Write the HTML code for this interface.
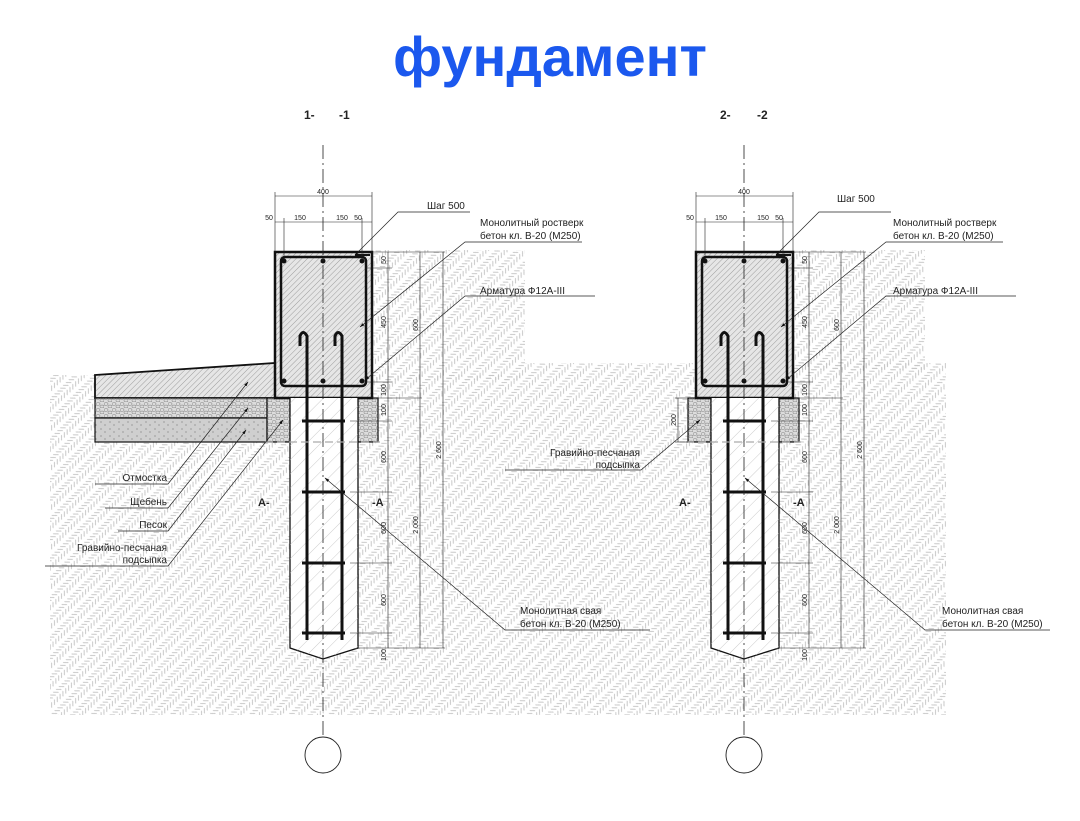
<!DOCTYPE html>
<html><head><meta charset="utf-8"><style>
html,body{margin:0;padding:0;background:#fff;}
svg{display:block;}
text{font-family:"Liberation Sans",sans-serif;fill:#222;}
</style></head><body>
<svg width="1080" height="821" viewBox="0 0 1080 821" xmlns="http://www.w3.org/2000/svg">
<defs>
<pattern id="soil" width="14" height="4" patternUnits="userSpaceOnUse" patternTransform="rotate(45)">
<line x1="1" y1="0" x2="5" y2="4" stroke="#c4c4c4" stroke-width="0.9"/>
<line x1="13" y1="0" x2="9" y2="4" stroke="#c4c4c4" stroke-width="0.9"/>
</pattern>
<pattern id="conc" width="4" height="4" patternUnits="userSpaceOnUse" patternTransform="rotate(45)">
<rect width="4" height="4" fill="#e6e6e6"/>
<line x1="0" y1="0" x2="0" y2="4" stroke="#8a8a8a" stroke-width="0.8"/>
</pattern>
<pattern id="pile" width="10" height="10" patternUnits="userSpaceOnUse" patternTransform="rotate(45)">
<line x1="0" y1="0" x2="0" y2="10" stroke="#b8b8b8" stroke-width="0.7"/>
</pattern>
<pattern id="grav" width="8" height="6" patternUnits="userSpaceOnUse">
<rect width="8" height="6" fill="#dcdcdc"/>
<ellipse cx="2" cy="2" rx="2" ry="1.5" fill="none" stroke="#8a8a8a" stroke-width="0.6"/>
<ellipse cx="6" cy="4.5" rx="2" ry="1.4" fill="none" stroke="#8a8a8a" stroke-width="0.6"/>
</pattern>
<pattern id="sand" width="9" height="7" patternUnits="userSpaceOnUse">
<rect width="9" height="7" fill="#cfcfcf"/>
<circle cx="2" cy="2" r="0.6" fill="#777"/><circle cx="6" cy="5" r="0.6" fill="#777"/>
</pattern>
<marker id="ar" viewBox="0 0 10 10" refX="9" refY="5" markerWidth="7" markerHeight="7" orient="auto"><path d="M0,2 L10,5 L0,8z" fill="#111"/></marker>
<g id="core">
 <rect x="275" y="252" width="97" height="146" fill="url(#conc)" stroke="#111" stroke-width="2.5"/>
 <rect x="281" y="257" width="85" height="129" rx="4" fill="none" stroke="#111" stroke-width="2.5"/>
 <line x1="355" y1="255" x2="370" y2="255" stroke="#111" stroke-width="2"/>
 <g fill="#111"><circle cx="284" cy="261" r="2.5"/><circle cx="323" cy="261" r="2.5"/><circle cx="362" cy="261" r="2.5"/><circle cx="284" cy="381" r="2.5"/><circle cx="323" cy="381" r="2.5"/><circle cx="362" cy="381" r="2.5"/></g>
 <path d="M290,398 L290,648 L323,659 L358,648 L358,398" fill="#fff" stroke="#111" stroke-width="1.3"/>
 <path d="M290,398 L290,648 L323,659 L358,648 L358,398z" fill="url(#pile)"/>
 <g fill="none" stroke="#111" stroke-width="3">
 <path d="M307,640 L307,336 Q303,329 300,336 L300,346"/>
 <path d="M342,640 L342,336 Q338,329 335,336 L335,346"/>
 </g>
 <g stroke="#111" stroke-width="3"><line x1="302" y1="421" x2="345" y2="421"/><line x1="302" y1="492" x2="345" y2="492"/><line x1="302" y1="563" x2="345" y2="563"/><line x1="302" y1="633" x2="345" y2="633"/></g>
 <line x1="265" y1="442" x2="380" y2="442" stroke="#aaa" stroke-width="1.2" stroke-dasharray="8,4"/>
 <line x1="323" y1="145" x2="323" y2="737" stroke="#222" stroke-width="0.8" stroke-dasharray="14,4,2,4"/>
 <circle cx="323" cy="755" r="18" fill="#fff" stroke="#222" stroke-width="0.9"/>
 <g stroke="#222" stroke-width="0.6" fill="none">
 <line x1="275" y1="196" x2="372" y2="196"/><line x1="275" y1="192" x2="275" y2="252"/><line x1="372" y1="192" x2="372" y2="252"/>
 <line x1="275" y1="222" x2="372" y2="222"/><line x1="284" y1="218" x2="284" y2="257"/><line x1="362" y1="218" x2="362" y2="257"/>
 <line x1="388" y1="252" x2="388" y2="648"/><line x1="420" y1="252" x2="420" y2="648"/><line x1="443" y1="252" x2="443" y2="648"/>
 <line x1="372" y1="252" x2="445" y2="252"/><line x1="366" y1="268" x2="392" y2="268"/><line x1="366" y1="382" x2="392" y2="382"/>
 <line x1="378" y1="398" x2="422" y2="398"/><line x1="350" y1="421" x2="392" y2="421"/><line x1="350" y1="492" x2="392" y2="492"/><line x1="350" y1="563" x2="392" y2="563"/><line x1="350" y1="633" x2="392" y2="633"/><line x1="358" y1="648" x2="445" y2="648"/>
 </g>
 <g font-size="7" text-anchor="middle">
 <text x="323" y="194">400</text><text x="269" y="220">50</text><text x="300" y="220">150</text><text x="342" y="220">150</text><text x="358" y="220">50</text>
 <text transform="translate(386,260) rotate(-90)">50</text><text transform="translate(386,322) rotate(-90)">450</text><text transform="translate(386,390) rotate(-90)">100</text><text transform="translate(386,410) rotate(-90)">100</text><text transform="translate(386,457) rotate(-90)">600</text><text transform="translate(386,528) rotate(-90)">600</text><text transform="translate(386,600) rotate(-90)">600</text><text transform="translate(386,655) rotate(-90)">100</text>
 <text transform="translate(418,325) rotate(-90)">600</text><text transform="translate(418,525) rotate(-90)">2 000</text><text transform="translate(441,450) rotate(-90)">2 600</text>
 </g>
 <g font-size="11" font-weight="bold"><text x="258" y="506">A-</text><text x="372" y="506">-A</text></g>
 <g stroke="#222" stroke-width="0.7" fill="none">
 <path d="M470,212 L398,212 L355,255" marker-end="url(#ar)"/>
 <path d="M582,242 L465,242 L360,327" marker-end="url(#ar)"/>
 <path d="M595,296 L465,296 L365,380" marker-end="url(#ar)"/>
 </g>
</g>
</defs>
<text x="550" y="76" text-anchor="middle" font-size="56" font-weight="bold" style="fill:#1b58ee">фундамент</text>
<g fill="url(#soil)">
<rect x="50" y="375" width="475" height="340"/><rect x="372" y="250" width="153" height="130"/>
<rect x="525" y="363" width="421" height="352"/><rect x="792" y="250" width="133" height="120"/>
</g>
<path d="M95,375 L275,363 L275,398 L95,398z" fill="url(#conc)" stroke="#111" stroke-width="1.8"/>
<rect x="95" y="398" width="172" height="20" fill="url(#grav)" stroke="#111" stroke-width="1.2"/>
<rect x="95" y="418" width="172" height="24" fill="url(#sand)" stroke="#111" stroke-width="1.2"/>
<rect x="267" y="398" width="23" height="44" fill="url(#grav)" stroke="#111" stroke-width="1.2"/>
<rect x="358" y="398" width="20" height="44" fill="url(#grav)" stroke="#111" stroke-width="1.2"/>
<use href="#core"/>
<g stroke="#222" stroke-width="0.7" fill="none">
<path d="M95,484 L168,484 L248,382" marker-end="url(#ar)"/>
<path d="M105,508 L168,508 L248,408" marker-end="url(#ar)"/>
<path d="M118,531 L168,531 L246,430" marker-end="url(#ar)"/>
<path d="M45,566 L168,566 L283,420" marker-end="url(#ar)"/>
<path d="M650,630 L505,630 L325,478" marker-end="url(#ar)"/>
</g>
<g font-size="10" text-anchor="end">
<text x="167" y="481">Отмостка</text><text x="167" y="505">Щебень</text><text x="167" y="528">Песок</text>
<text x="167" y="551">Гравийно-песчаная</text><text x="167" y="563">подсыпка</text>
</g>
<g font-size="10">
<text x="427" y="209">Шаг 500</text>
<text x="480" y="226">Монолитный ростверк</text><text x="480" y="239">бетон кл. В-20 (М250)</text>
<text x="480" y="294">Арматура Ф12А-III</text>
<text x="520" y="614">Монолитная свая</text><text x="520" y="627">бетон кл. В-20 (М250)</text>
</g>
<g font-size="12" font-weight="bold"><text x="304" y="119">1-</text><text x="339" y="119">-1</text></g>
<g transform="translate(421,0)">
<rect x="267" y="398" width="23" height="44" fill="url(#grav)" stroke="#111" stroke-width="1.2"/>
<rect x="358" y="398" width="20" height="44" fill="url(#grav)" stroke="#111" stroke-width="1.2"/>
<use href="#core"/>
<g stroke="#222" stroke-width="0.6"><line x1="254" y1="398" x2="267" y2="398"/><line x1="254" y1="442" x2="267" y2="442"/><line x1="257" y1="398" x2="257" y2="442"/></g>
<text transform="translate(255,420) rotate(-90)" font-size="7" text-anchor="middle">200</text>
<g stroke="#222" stroke-width="0.7" fill="none">
<path d="M84,470 L220,470 L279,420" marker-end="url(#ar)"/>
<path d="M629,630 L504,630 L324,478" marker-end="url(#ar)"/>
</g>
</g>
<g font-size="10">
<text x="837" y="202">Шаг 500</text>
<text x="893" y="226">Монолитный ростверк</text><text x="893" y="239">бетон кл. В-20 (М250)</text>
<text x="893" y="294">Арматура Ф12А-III</text>
<text x="942" y="614">Монолитная свая</text><text x="942" y="627">бетон кл. В-20 (М250)</text>
<text x="640" y="456" text-anchor="end">Гравийно-песчаная</text><text x="640" y="468" text-anchor="end">подсыпка</text>
</g>
<g font-size="12" font-weight="bold"><text x="720" y="119">2-</text><text x="757" y="119">-2</text></g>
</svg>
</body></html>
